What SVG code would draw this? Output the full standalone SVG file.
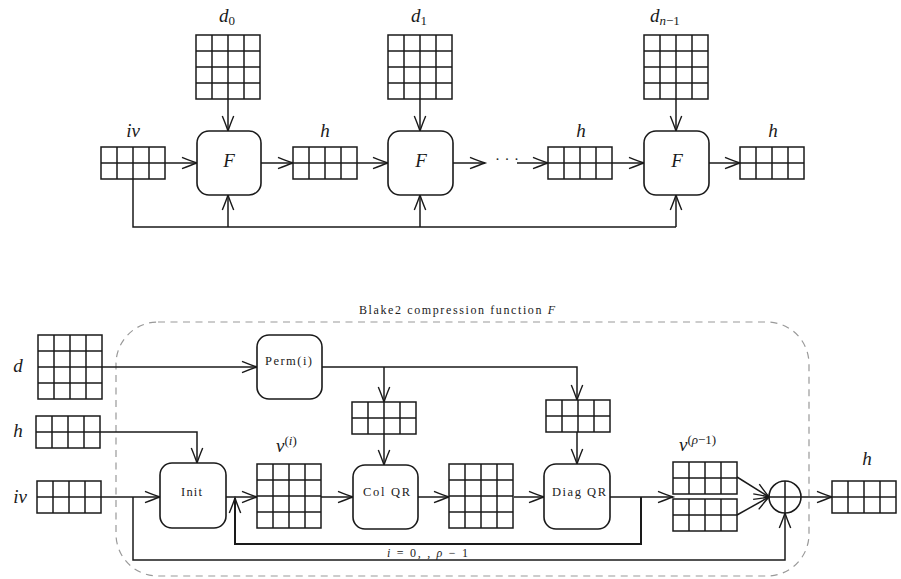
<svg xmlns="http://www.w3.org/2000/svg" xmlns:xlink="http://www.w3.org/1999/xlink" width="901" height="579" viewBox="0 0 901 579">
<style>
.ln{fill:none;stroke:#1a1a1a;stroke-width:1.5}
.box{fill:#fff;stroke:#1a1a1a;stroke-width:1.6}
.m{font-family:"Liberation Serif","DejaVu Serif",serif;font-style:italic;font-size:19px;fill:#1a1a1a}
.sub{font-style:normal;font-size:13px}
.it{font-style:italic}
.supi{font-size:13px}
.up{font-style:normal}
.lbl{font-family:"Liberation Serif","DejaVu Serif",serif;font-size:12.5px;fill:#222}
.dash{fill:none;stroke:#999;stroke-width:1.2;stroke-dasharray:7 5.5}
</style>
<defs>
<marker id="ar" markerWidth="20" markerHeight="16" refX="16" refY="8" orient="auto" markerUnits="userSpaceOnUse">
<path d="M1,2.3 Q10,6 16,8 Q10,10 1,13.7" fill="none" stroke="#1a1a1a" stroke-width="1.4"/>
</marker>
<g id="g44">
<rect x="0" y="0" width="64" height="64" class="box" style="stroke-width:1.5"/>
<path d="M16,0V64M32,0V64M48,0V64M0,16H64M0,32H64M0,48H64" class="ln"/>
</g>
<g id="g42">
<rect x="0" y="0" width="64" height="32" class="box" style="stroke-width:1.5"/>
<path d="M16,0V32M32,0V32M48,0V32M0,16H64" class="ln"/>
</g>
</defs>

<!-- TOP DIAGRAM -->
<g id="connectors-top" class="ln" marker-end="url(#ar)">
<path d="M165,163H197"/>
<path d="M261,163H293"/>
<path d="M357,163H388"/>
<path d="M453,163H485"/>
<path d="M517,163H548"/>
<path d="M612,163H644"/>
<path d="M708,163H740"/>
<path d="M228,99V131"/>
<path d="M420,99V131"/>
<path d="M676,99V131"/>
<path d="M133,179V227H676" marker-end="none"/>
<path d="M228,227V195"/>
<path d="M420,227V195"/>
<path d="M676,227V195"/>
</g>
<text x="495" y="164" class="lbl" style="font-size:15px" textLength="24" lengthAdjust="spacing">· · ·</text>

<g id="iv-top"><use xlink:href="#g42" x="101" y="147"/><text x="133" y="137" class="m" text-anchor="middle">iv</text></g>
<g id="d0"><use xlink:href="#g44" x="196" y="35"/><text x="219" y="22" class="m">d<tspan class="sub" dy="3">0</tspan></text></g>
<g id="F1"><rect x="197" y="131" width="64" height="64" rx="12" class="box"/><text x="229" y="167" class="m" text-anchor="middle">F</text></g>
<g id="h1"><use xlink:href="#g42" x="293" y="147"/><text x="325" y="137" class="m" text-anchor="middle">h</text></g>
<g id="d1"><use xlink:href="#g44" x="388" y="35"/><text x="411" y="22" class="m">d<tspan class="sub" dy="3">1</tspan></text></g>
<g id="F2"><rect x="388" y="131" width="65" height="64" rx="12" class="box"/><text x="421" y="167" class="m" text-anchor="middle">F</text></g>
<g id="h2"><use xlink:href="#g42" x="548" y="147"/><text x="581" y="137" class="m" text-anchor="middle">h</text></g>
<g id="dn1"><use xlink:href="#g44" x="644" y="35"/><text x="650" y="22" class="m">d<tspan class="sub" dy="3"><tspan class="it">n</tspan>−1</tspan></text></g>
<g id="F3"><rect x="644" y="131" width="65" height="64" rx="12" class="box"/><text x="677" y="167" class="m" text-anchor="middle">F</text></g>
<g id="h3"><use xlink:href="#g42" x="740" y="147"/><text x="773" y="137" class="m" text-anchor="middle">h</text></g>

<!-- BOTTOM DIAGRAM -->
<g id="frame">
<rect x="116" y="322" width="693" height="254" rx="42" class="dash"/>
<text x="359" y="314" class="lbl" style="font-size:12px" textLength="196" lengthAdjust="spacing">Blake2 compression function <tspan class="it">F</tspan></text>
</g>

<g id="connectors-bottom" class="ln" marker-end="url(#ar)">
<path d="M102,367H257"/>
<path d="M322,367H577V400"/>
<path d="M384,367V402"/>
<path d="M384,434V465"/>
<path d="M577,432V464"/>
<path d="M100,432H197V463"/>
<path d="M101,497H160"/>
<path d="M226,497H257"/>
<path d="M321,497H353"/>
<path d="M418,497H449"/>
<path d="M514,497H544"/>
<path d="M610,497H673"/>
<path d="M641,497V544H235V498" style="stroke-width:2"/>
<path d="M133,497V560H785V513"/>
<path d="M737,477L769,497"/>
<path d="M737,515L769,497"/>
<path d="M801,497H832"/>
</g>
<text x="387" y="557" class="lbl" style="font-size:12px" textLength="81" lengthAdjust="spacing"><tspan class="it">i</tspan> = 0, , <tspan class="it">ρ</tspan> − 1</text>

<g id="d-in"><use xlink:href="#g44" x="38" y="335"/><text x="18" y="372" class="m" text-anchor="middle">d</text></g>
<g id="h-in"><use xlink:href="#g42" x="36" y="416"/><text x="18" y="437" class="m" text-anchor="middle">h</text></g>
<g id="iv-in"><use xlink:href="#g42" x="37" y="481"/><text x="20" y="503" class="m" text-anchor="middle">iv</text></g>
<g id="perm"><rect x="257" y="335" width="65" height="64" rx="12" class="box"/><text x="265" y="365" class="lbl" textLength="47" lengthAdjust="spacing">Perm(i)</text></g>
<g id="m1"><use xlink:href="#g42" x="352" y="402"/></g>
<g id="m2"><use xlink:href="#g42" x="546" y="400"/></g>
<g id="init"><rect x="160" y="463" width="66" height="65" rx="12" class="box"/><text x="181" y="496" class="lbl" textLength="21" lengthAdjust="spacing">Init</text></g>
<g id="vi"><use xlink:href="#g44" x="257" y="464"/><text x="276" y="452" class="m">v<tspan class="supi up" dy="-7">(<tspan class="it">i</tspan>)</tspan></text></g>
<g id="colqr"><rect x="353" y="465" width="65" height="64" rx="12" class="box"/><text x="363" y="496" class="lbl" textLength="47" lengthAdjust="spacing">Col QR</text></g>
<g id="v2"><use xlink:href="#g44" x="449" y="464"/></g>
<g id="diagqr"><rect x="544" y="464" width="66" height="65" rx="12" class="box"/><text x="552" y="496" class="lbl" textLength="54" lengthAdjust="spacing">Diag QR</text></g>
<g id="vrho"><use xlink:href="#g42" x="673" y="462"/><use xlink:href="#g42" x="673" y="499"/><text x="679" y="451" class="m">v<tspan class="supi up" dy="-7">(<tspan class="it">ρ</tspan>−1)</tspan></text></g>
<g id="xor"><circle cx="785" cy="497" r="16" class="box"/><path d="M769,497H801M785,481V513" class="ln"/></g>
<g id="h-out"><use xlink:href="#g42" x="832" y="481"/><text x="867" y="465" class="m" text-anchor="middle">h</text></g>
</svg>
